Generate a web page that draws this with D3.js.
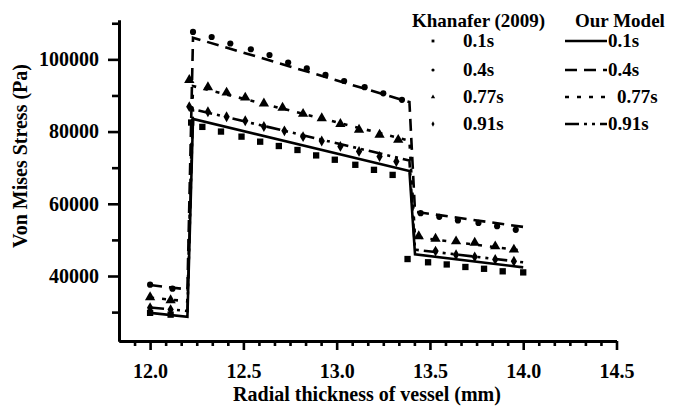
<!DOCTYPE html>
<html>
<head>
<meta charset="utf-8">
<script src="https://cdn.jsdelivr.net/npm/d3@7"></script>
<style>
  body { margin: 0; background: #fff; }
  text { font-family: "Liberation Serif", "Times New Roman", serif; font-weight: bold; fill: #000; }
</style>
</head>
<body>
<div id="chart"></div>
<script>
// data
const modelX = [12.0, 12.2, 12.23, 13.39, 13.42, 14.0];
const model01 = [29800, 28700, 83500, 69100, 46000, 42400];
const model04 = [37500, 36300, 106000, 88200, 57800, 53600];
const model077 = [34000, 33000, 92600, 77500, 50800, 47000];
const model091 = [31300, 30300, 86200, 72000, 47300, 43800];

const khX01 = [12.0, 12.11, 12.22, 12.28, 12.38, 12.49, 12.59, 12.69, 12.79, 12.89, 12.99, 13.10, 13.20, 13.30, 13.38, 13.49, 13.59, 13.69, 13.79, 13.89, 14.0];
const khY01 = [29800, 29300, 82500, 81300, 80000, 78600, 77200, 76000, 74900, 73400, 72200, 70800, 69400, 68000, 44700, 43800, 43200, 42500, 42000, 41300, 41000];
const khX04 = [12.0, 12.12, 12.23, 12.33, 12.43, 12.54, 12.64, 12.74, 12.84, 12.94, 13.04, 13.15, 13.25, 13.35, 13.45, 13.55, 13.65, 13.76, 13.86, 13.96];
const khY04 = [37600, 36500, 107600, 106200, 104400, 102800, 101200, 99100, 97500, 95700, 94000, 92300, 90600, 88800, 57400, 56400, 55400, 54700, 53800, 52800];
const khX077 = [12.0, 12.11, 12.21, 12.31, 12.41, 12.51, 12.61, 12.71, 12.82, 12.92, 13.02, 13.12, 13.23, 13.33, 13.44, 13.53, 13.64, 13.74, 13.85, 13.95];
const khY077 = [34100, 33300, 94300, 92300, 90800, 89400, 87800, 86600, 84900, 83700, 82100, 80500, 79100, 77700, 51000, 50300, 49600, 49200, 48200, 47300];
const khX091 = [12.0, 12.11, 12.21, 12.31, 12.41, 12.51, 12.61, 12.72, 12.82, 12.92, 13.02, 13.12, 13.23, 13.32, 13.53, 13.64, 13.74, 13.85, 13.95];
const khY091 = [31200, 30700, 86900, 85500, 84100, 83000, 81400, 80200, 78600, 77400, 75900, 74500, 73100, 71700, 46900, 45900, 45300, 44600, 44100];

const timeLabels = ["0.1s", "0.4s", "0.77s", "0.91s"];
const xMajorTicks = [12.0, 12.5, 13.0, 13.5, 14.0, 14.5];
const yMajorTicks = [40000, 60000, 80000, 100000];
const yMinorTicks = [30000, 50000, 70000, 90000, 110000];

const svgWidth = 677;
const svgHeight = 408;

const margin = { top: 20, right: 60, bottom: 67, left: 119 };
const width = 616.5 - margin.left;
const height = svgHeight - margin.top - margin.bottom;

const svg = d3.select("#chart")
  .append("svg")
  .attr("width", svgWidth)
  .attr("height", svgHeight);

const chartGroup = svg.append("g")
  .attr("transform", `translate(${margin.left}, ${margin.top})`);

const xScale = d3.scaleLinear().domain([11.8333, 14.5]).range([0, width]);
const yScale = d3.scaleLinear().domain([22000, 110900]).range([height, 0]);

// minor x ticks every 1/12 mm
const xMinorTicks = d3.range(1, 32).map(i => 11.8333 + i / 12)
  .filter(v => !xMajorTicks.some(m => Math.abs(m - v) < 0.01));

function styleAxis(g) {
  g.select(".domain").attr("stroke", "#000").attr("stroke-width", 3);
  g.selectAll(".tick line").attr("stroke", "#000").attr("stroke-width", 2.6);
  g.selectAll(".tick text").style("font-size", "20px");
}

// x axis
chartGroup.append("g")
  .attr("transform", `translate(0, ${height})`)
  .call(d3.axisBottom(xScale).tickValues(xMinorTicks).tickSize(5).tickSizeOuter(0).tickFormat(""))
  .call(styleAxis);
chartGroup.append("g")
  .attr("transform", `translate(0, ${height})`)
  .call(d3.axisBottom(xScale).tickValues(xMajorTicks).tickSize(9).tickSizeOuter(0)
    .tickPadding(14).tickFormat(d3.format(".1f")))
  .call(styleAxis);

// y axis
chartGroup.append("g")
  .call(d3.axisLeft(yScale).tickValues(yMinorTicks).tickSize(7).tickSizeOuter(0).tickFormat(""))
  .call(styleAxis);
chartGroup.append("g")
  .call(d3.axisLeft(yScale).tickValues(yMajorTicks).tickSize(11).tickSizeOuter(0)
    .tickPadding(9).tickFormat(d3.format("d")))
  .call(styleAxis);

// axis titles
svg.append("text")
  .attr("x", 367)
  .attr("y", 401)
  .attr("text-anchor", "middle")
  .style("font-size", "20px")
  .text("Radial thickness of vessel (mm)");

svg.append("text")
  .attr("transform", "translate(27, 156) rotate(-90)")
  .attr("text-anchor", "middle")
  .style("font-size", "20px")
  .text("Von Mises Stress (Pa)");

// model lines
const dashes = [null, "12,7", "4,8", "14,5,3,5,3,5"];
const modelSeries = [model01, model04, model077, model091];

const line = d3.line()
  .x(d => xScale(d[0]))
  .y(d => yScale(d[1]));

modelSeries.forEach((vals, i) => {
  chartGroup.append("path")
    .datum(modelX.map((xv, j) => [xv, vals[j]]))
    .attr("fill", "none")
    .attr("stroke", "#000")
    .attr("stroke-width", 2.6)
    .attr("stroke-dasharray", dashes[i])
    .attr("d", line);
});

// Khanafer markers
const symbols = [d3.symbolSquare, d3.symbolCircle, d3.symbolTriangle, d3.symbolDiamond];
const symbolSizes = [40, 30, 46, 34];
const khSeries = [[khX01, khY01], [khX04, khY04], [khX077, khY077], [khX091, khY091]];

khSeries.forEach((s, i) => {
  chartGroup.selectAll(null)
    .data(s[0].map((xv, j) => [xv, s[1][j]]))
    .enter()
    .append("path")
    .attr("transform", d => `translate(${xScale(d[0])}, ${yScale(d[1])})`)
    .attr("d", d3.symbol().type(symbols[i]).size(symbolSizes[i]))
    .attr("fill", "#000");
});

// legend
const legend = svg.append("g");
legend.append("text").attr("x", 412).attr("y", 27).style("font-size", "19px").text("Khanafer (2009)");
legend.append("text").attr("x", 575).attr("y", 27).style("font-size", "19px").text("Our Model");

const rowY = [47, 76, 103, 130];
timeLabels.forEach((t, i) => {
  const cy = rowY[i] - 6;
  legend.append("path")
    .attr("transform", `translate(433, ${cy})`)
    .attr("d", d3.symbol().type(symbols[i]).size(8))
    .attr("fill", "#000");
  legend.append("text").attr("x", 463).attr("y", rowY[i]).style("font-size", "19px").text(t);

  legend.append("line")
    .attr("x1", 565).attr("x2", 607)
    .attr("y1", cy).attr("y2", cy)
    .attr("stroke", "#000")
    .attr("stroke-width", 2.6)
    .attr("stroke-dasharray", dashes[i]);
  legend.append("text")
    .attr("x", i === 2 ? 617 : 608)
    .attr("y", rowY[i])
    .style("font-size", "19px")
    .text(t);
});
</script>
</body>
</html>
